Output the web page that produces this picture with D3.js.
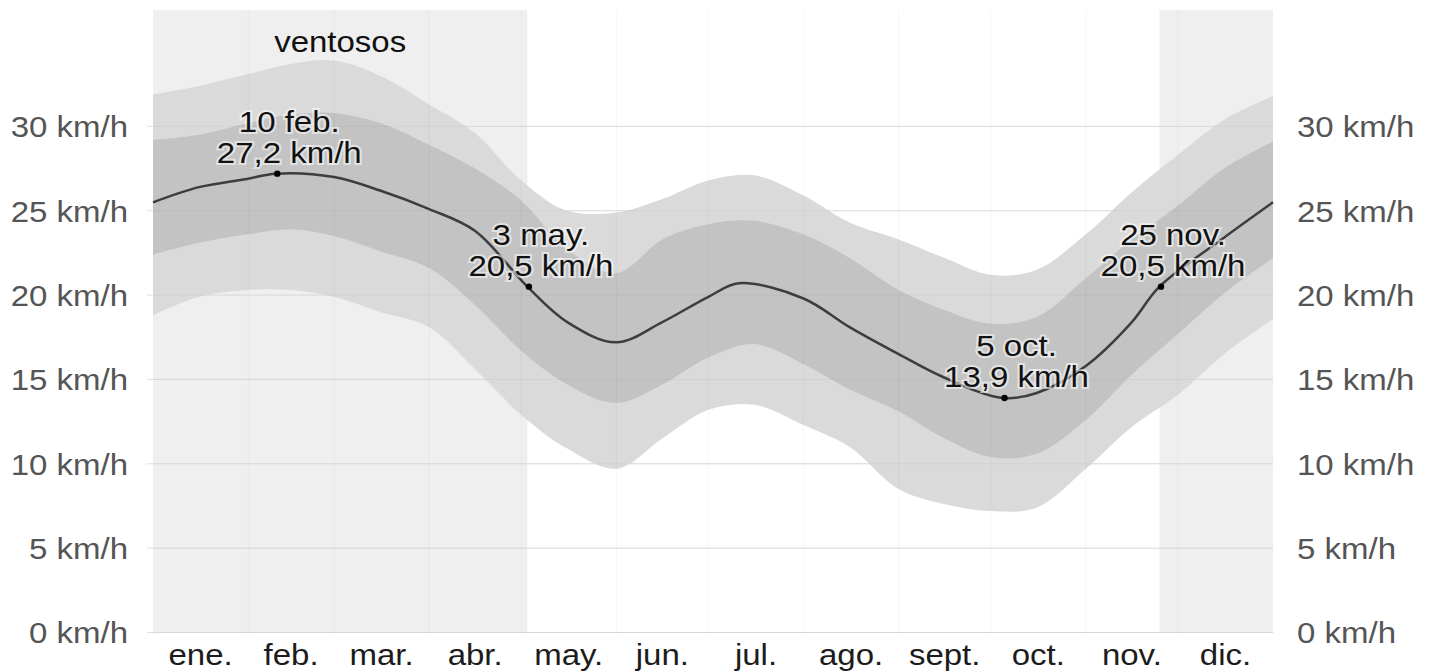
<!DOCTYPE html>
<html lang="es">
<head>
  <meta charset="UTF-8">
  <title>Velocidad promedio del viento</title>
  <style>
    html, body {
      background-color: #ffffff;
      margin: 0;
    }
    svg {
      display: block;
    }
    .chart text {
      font-family: "Liberation Sans", Arial, Helvetica, sans-serif;
      font-size: 30px;
    }
    .tick-label {
      fill: #555555;
    }
    .month-label {
      fill: #1c1c1c;
    }
    .note {
      fill: #111111;
      stroke: rgba(255, 255, 255, 0.55);
      stroke-width: 4px;
      paint-order: stroke;
    }
  </style>
</head>
<body>
  <svg class="chart" width="1429" height="672"></svg>

  <script src="https://cdnjs.cloudflare.com/ajax/libs/d3/7.8.5/d3.min.js"></script>
  <script>
    // months (day of year where each one starts, last entry = end of year)
    const monthLabels = ['ene.', 'feb.', 'mar.', 'abr.', 'may.', 'jun.', 'jul.', 'ago.', 'sept.', 'oct.', 'nov.', 'dic.'];
    const monthStarts = [0, 31, 59, 90, 120, 151, 181, 212, 243, 273, 304, 334, 365];
    const yTicks = [0, 5, 10, 15, 20, 25, 30];

    // percentile bands, km/h
    const bandDays = [0, 15, 31, 45, 59, 74, 90, 105, 120, 135, 151, 166, 181, 196, 212, 227, 243, 258, 273, 288, 304, 319, 334, 349, 365];
    const p90 = [31.9, 32.4, 33.1, 33.7, 33.9, 33.0, 31.3, 29.6, 26.8, 25.0, 24.9, 25.7, 26.8, 27.1, 25.9, 24.3, 23.3, 22.2, 21.2, 21.5, 23.6, 26.1, 28.3, 30.4, 31.8];
    const p75 = [29.2, 29.5, 30.2, 30.7, 30.8, 30.2, 28.9, 27.5, 25.6, 22.7, 21.3, 23.3, 24.2, 24.4, 23.6, 22.2, 20.3, 19.1, 18.3, 18.7, 21.0, 23.3, 25.3, 27.5, 29.1];
    const p25 = [22.4, 23.1, 23.6, 23.9, 23.5, 22.6, 21.6, 19.4, 16.7, 14.7, 13.6, 14.7, 16.3, 17.1, 15.9, 14.4, 13.1, 11.5, 10.4, 10.6, 12.6, 15.3, 17.7, 20.1, 22.2];
    const p10 = [18.8, 19.9, 20.3, 20.3, 19.9, 19.0, 18.1, 15.6, 12.9, 10.9, 9.7, 11.5, 13.2, 13.5, 12.3, 11.0, 8.5, 7.6, 7.2, 7.4, 9.7, 12.2, 14.1, 16.5, 18.6];

    // average speed
    const meanDays = [0, 15, 31, 40, 59, 74, 90, 105, 122, 135, 151, 166, 181, 191, 212, 227, 243, 258, 277, 288, 304, 319, 328, 349, 365];
    const meanSpeed = [25.5, 26.4, 26.9, 27.2, 27.0, 26.2, 25.1, 23.8, 20.5, 18.4, 17.2, 18.4, 19.9, 20.7, 19.8, 18.1, 16.5, 15.1, 13.9, 14.2, 15.8, 18.4, 20.5, 23.4, 25.5];

    // windy season and highlighted days
    const windyRanges = [[0, 122], [328, 365]];
    const windyLabel = 'ventosos';
    const noteDays = [40, 122, 277, 328];
    const noteDates = ['10 feb.', '3 may.', '5 oct.', '25 nov.'];
    const noteValues = [27.2, 20.5, 13.9, 20.5];

    const svg = d3.select('svg.chart');
    const x = d3.scaleLinear().domain([0, 365]).range([153, 1273]);
    const y = d3.scaleLinear().domain([0, 36.9]).range([632.5, 10]);
    const stretch = 'scale(1.1,1)'; // reference text is a bit wide
    const fmt = v => d3.format('.1f')(v).replace('.', ',');
    const curve = d3.curveCatmullRom.alpha(0.5);

    // windy season background
    svg.append('g')
      .selectAll('rect')
      .data(windyRanges)
      .join('rect')
      .attr('x', d => x(d[0]))
      .attr('y', y.range()[1])
      .attr('width', d => x(d[1]) - x(d[0]))
      .attr('height', y(0) - y.range()[1])
      .attr('fill', '#efefef');

    svg.append('text')
      .attr('text-anchor', 'middle')
      .attr('fill', '#111111')
      .attr('transform', `translate(${(x(windyRanges[0][0]) + x(windyRanges[0][1])) / 2},52) ${stretch}`)
      .text(windyLabel);

    // horizontal grid
    svg.append('g')
      .selectAll('line')
      .data(yTicks)
      .join('line')
      .attr('x1', x(0) - 6)
      .attr('x2', x(365))
      .attr('y1', d => y(d))
      .attr('y2', d => y(d))
      .attr('stroke', '#e0e0e0')
      .attr('stroke-width', 1);

    // bands
    const bandRows = bandDays.map((d, i) => ({ day: d, p10: p10[i], p25: p25[i], p75: p75[i], p90: p90[i] }));

    const outerArea = d3.area().curve(curve)
      .x(d => x(d.day))
      .y0(d => y(d.p10))
      .y1(d => y(d.p90));
    const innerArea = d3.area().curve(curve)
      .x(d => x(d.day))
      .y0(d => y(d.p25))
      .y1(d => y(d.p75));

    svg.append('path')
      .datum(bandRows)
      .attr('d', outerArea)
      .attr('fill', '#dadada');

    svg.append('path')
      .datum(bandRows)
      .attr('d', innerArea)
      .attr('fill', '#c3c3c3');

    // faint month separators and grid over the bands
    svg.append('g')
      .selectAll('line')
      .data(monthStarts.slice(1, -1))
      .join('line')
      .attr('x1', d => x(d))
      .attr('x2', d => x(d))
      .attr('y1', y.range()[1])
      .attr('y2', y(0))
      .attr('stroke', 'rgba(0,0,0,0.035)');

    svg.append('g')
      .selectAll('line')
      .data(yTicks)
      .join('line')
      .attr('x1', x(0))
      .attr('x2', x(365))
      .attr('y1', d => y(d))
      .attr('y2', d => y(d))
      .attr('stroke', 'rgba(0,0,0,0.04)');

    // average line
    const meanRows = meanDays.map((d, i) => ({ day: d, v: meanSpeed[i] }));
    svg.append('path')
      .datum(meanRows)
      .attr('d', d3.line().curve(curve).x(d => x(d.day)).y(d => y(d.v)))
      .attr('fill', 'none')
      .attr('stroke', '#3d3d3d')
      .attr('stroke-width', 2.5);

    // y tick labels, both sides
    const ticks = svg.append('g');
    ticks.selectAll('text.left')
      .data(yTicks)
      .join('text')
      .attr('class', 'tick-label left')
      .attr('text-anchor', 'end')
      .attr('dy', '0.36em')
      .attr('transform', d => `translate(128,${y(d)}) ${stretch}`)
      .text(d => `${d} km/h`);
    ticks.selectAll('text.right')
      .data(yTicks)
      .join('text')
      .attr('class', 'tick-label right')
      .attr('text-anchor', 'start')
      .attr('dy', '0.36em')
      .attr('transform', d => `translate(1297,${y(d)}) ${stretch}`)
      .text(d => `${d} km/h`);

    // month labels
    svg.append('g')
      .selectAll('text')
      .data(monthLabels)
      .join('text')
      .attr('class', 'month-label')
      .attr('text-anchor', 'middle')
      .attr('transform', (d, i) => `translate(${x((monthStarts[i] + monthStarts[i + 1]) / 2)},665) ${stretch}`)
      .text(d => d);

    // highlighted days
    const notes = svg.append('g')
      .selectAll('g')
      .data(noteDays)
      .join('g');

    notes.append('circle')
      .attr('cx', d => x(d + 0.5))
      .attr('cy', (d, i) => y(noteValues[i]))
      .attr('r', 3.2)
      .attr('fill', '#000000');

    notes.append('text')
      .attr('class', 'note')
      .attr('text-anchor', 'middle')
      .attr('transform', (d, i) => `translate(${x(d + 0.5) + 12},${y(noteValues[i]) - 42}) ${stretch}`)
      .text((d, i) => noteDates[i]);

    notes.append('text')
      .attr('class', 'note')
      .attr('text-anchor', 'middle')
      .attr('transform', (d, i) => `translate(${x(d + 0.5) + 12},${y(noteValues[i]) - 11}) ${stretch}`)
      .text((d, i) => `${fmt(noteValues[i])} km/h`);
  </script>
</body>
</html>
